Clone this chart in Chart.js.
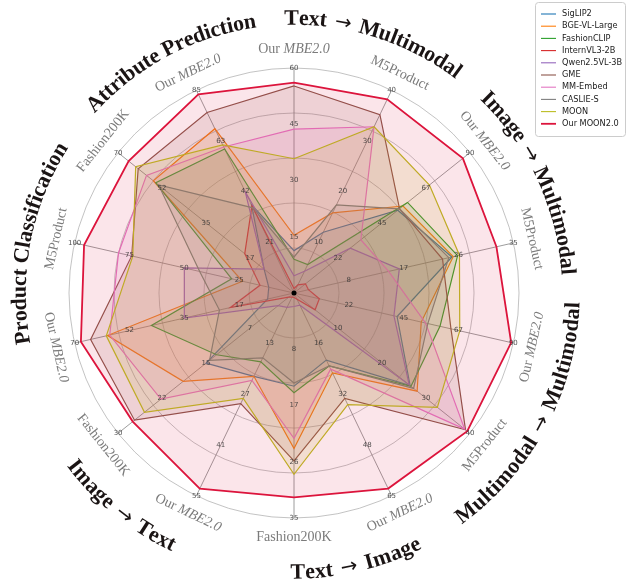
<!DOCTYPE html>
<html>
<head>
<meta charset="utf-8">
<script src="https://cdn.jsdelivr.net/npm/chart.js@4.4.1/dist/chart.umd.min.js"></script>
<style>
  html, body { margin: 0; padding: 0; background: #fff; }
  canvas { display: block; }
</style>
</head>
<body>
<canvas id="myChart" width="629" height="583"></canvas>
<script>
// axes, clockwise from the top
const axisNames = ["Our MBE2.0", "M5Product", "Our MBE2.0", "M5Product", "Our MBE2.0", "M5Product",
  "Our MBE2.0", "Fashion200K", "Our MBE2.0", "Fashion200K", "Our MBE2.0", "M5Product",
  "Fashion200K", "Our MBE2.0"];
const axisTicks = [
  [15, 30, 45, 60], [10, 20, 30, 40], [22, 45, 67, 90], [8, 17, 26, 35],
  [22, 45, 67, 90], [10, 20, 30, 40], [16, 32, 48, 65], [8, 17, 26, 35],
  [13, 27, 41, 55], [7, 15, 22, 30], [17, 35, 52, 70], [25, 50, 75, 100],
  [17, 35, 52, 70], [21, 42, 63, 85]
];
const axisMax = axisTicks.map((t) => t[t.length - 1]);

const groupNames = ["Text → Multimodal", "Image → Multimodal", "Multimodal → Multimodal",
  "Text → Image", "Image → Text", "Product Classification", "Attribute Prediction"];

const seriesNames = ["SigLIP2", "BGE-VL-Large", "FashionCLIP", "InternVL3-2B", "Qwen2.5VL-3B",
  "GME", "MM-Embed", "CASLIE-S", "MOON", "Our MOON2.0"];

const siglip2 = [11.3, 12.0, 53.1, 25.2, 42.3, 26.4, 21.5, 14.5, 22.6, 15.0, 8.4, 11.5, 11.9, 37.0];
const bgeVlLarge = [15.4, 15.8, 55.8, 25.4, 52.2, 28.0, 25.6, 24.2, 22.6, 18.9, 59.5, 23.5, 56.0, 68.9];
const fashionClip = [9.0, 5.6, 58.1, 26.1, 59.9, 26.6, 23.4, 15.5, 18.7, 13.2, 45.5, 28.4, 55.0, 60.4];
const internVl3 = [1.2, 1.6, 5.9, 2.3, 10.4, 4.8, 2.0, 0.7, 1.1, 0.9, 20.3, 15.5, 19.6, 36.6];
const qwen25vl = [4.6, 4.3, 28.8, 16.8, 41.0, 26.2, 3.9, 2.1, 3.9, 2.7, 35.0, 50.0, 11.9, 42.5];
const gme = [55.2, 35.2, 54.0, 23.7, 64.4, 39.0, 33.8, 26.1, 30.0, 27.2, 64.9, 74.0, 62.0, 75.7];
const mmEmbed = [43.7, 32.8, 34.2, 15.1, 54.0, 38.8, 24.4, 22.6, 23.7, 22.7, 58.8, 80.0, 58.7, 61.2];
const caslieS = [9.6, 17.4, 54.0, 24.7, 54.9, 27.2, 23.4, 14.0, 17.6, 14.4, 23.8, 43.0, 53.9, 35.7];
const moon = [35.8, 32.8, 69.3, 26.4, 68.0, 32.6, 35.8, 28.2, 28.6, 25.5, 59.9, 73.5, 63.0, 62.1];
const ourMoon2 = [56.1, 38.2, 86.4, 32.3, 89.1, 39.4, 62.7, 31.8, 53.1, 27.5, 68.0, 95.7, 65.8, 83.3];

const allSeries = [siglip2, bgeVlLarge, fashionClip, internVl3, qwen25vl, gme, mmEmbed, caslieS, moon, ourMoon2];
const colors = ["#1f77b4", "#ff7f0e", "#2ca02c", "#d62728", "#9467bd",
  "#8c564b", "#e377c2", "#7f7f7f", "#bcbd22", "#dc143c"];

// where the group titles sit (degrees clockwise from the top)
const groupAngles = [17.5, 65, 118, 167, -141, -79, -28];

const hexToRgba = (hex, a) => {
  const n = parseInt(hex.slice(1), 16);
  return `rgba(${(n >> 16) & 255}, ${(n >> 8) & 255}, ${n & 255}, ${a})`;
};

const datasets = allSeries.map((values, i) => {
  const ours = i === allSeries.length - 1;
  return {
    label: seriesNames[i],
    data: values.map((v, j) => v / axisMax[j]),
    borderColor: colors[i],
    backgroundColor: hexToRgba(colors[i], ours ? 0.11 : 0.13),
    borderWidth: ours ? 1.8 : 1.2,
    fill: true,
    pointRadius: 0,
    order: allSeries.length - 1 - i,
  };
});

const polar = (cx, cy, r, a) => ({ x: cx + r * Math.sin(a), y: cy - r * Math.cos(a) });

const titleFont = "bold 22px 'Liberation Serif'";
const arrowFont = "20px 'DejaVu Sans'";

const drawArcText = (ctx, text, cx, cy, radius, centerDeg) => {
  const lower = Math.abs(centerDeg) > 90;
  const chars = [...text];
  const widths = chars.map((c) => {
    ctx.font = c === "→" ? arrowFont : titleFont;
    return ctx.measureText(c).width + (c === "→" ? 5 : 0);
  });
  const total = widths.reduce((a, b) => a + b, 0);
  const c0 = (centerDeg * Math.PI) / 180;
  let acc = 0;
  chars.forEach((ch, j) => {
    const mid = acc + widths[j] / 2;
    acc += widths[j];
    const off = (mid - total / 2) / radius;
    const a = lower ? c0 - off : c0 + off;
    const p = polar(cx, cy, radius, a);
    ctx.save();
    ctx.translate(p.x, p.y);
    ctx.rotate(lower ? a - Math.PI : a);
    ctx.font = ch === "→" ? arrowFont : titleFont;
    ctx.fillText(ch, 0, 0);
    ctx.restore();
  });
};

const decorations = {
  id: "decorations",
  afterDatasetsDraw(chart) {
    const ctx = chart.ctx;
    const scale = chart.scales.r;
    const cx = scale.xCenter;
    const cy = scale.yCenter;
    const R = scale.drawingArea;

    ctx.save();
    // tick values along every axis
    ctx.font = "7px 'DejaVu Sans'";
    ctx.fillStyle = "rgba(50, 50, 50, 0.85)";
    ctx.textAlign = "center";
    ctx.textBaseline = "middle";
    axisTicks.forEach((ticks, i) => {
      ticks.forEach((t, k) => {
        const p = scale.getPointPosition(i, scale.getDistanceFromCenterForValue((k + 1) / ticks.length));
        ctx.fillText(String(t), p.x, p.y);
      });
    });

    // centre marker
    ctx.fillStyle = "#000";
    ctx.beginPath();
    ctx.arc(cx, cy, 2.5, 0, Math.PI * 2);
    ctx.fill();

    // axis names, turned along the circle
    ctx.fillStyle = "#7b7b7b";
    axisNames.forEach((name, i) => {
      const a = scale.getIndexAngle(i);
      let deg = (a * 180) / Math.PI;
      if (deg > 180) deg -= 360;
      let rot = deg;
      if (rot > 90) rot -= 180;
      else if (rot < -90) rot += 180;
      const p = polar(cx, cy, R + 19, a);
      ctx.save();
      ctx.translate(p.x, p.y);
      ctx.rotate((rot * Math.PI) / 180);
      ctx.textAlign = "left";
      if (name.startsWith("Our ")) {
        const first = "Our ";
        const rest = name.slice(4);
        ctx.font = "14px 'Liberation Serif'";
        const w1 = ctx.measureText(first).width;
        ctx.font = "italic 14px 'Liberation Serif'";
        const w2 = ctx.measureText(rest).width;
        const x0 = -(w1 + w2) / 2;
        ctx.font = "14px 'Liberation Serif'";
        ctx.fillText(first, x0, 0);
        ctx.font = "italic 14px 'Liberation Serif'";
        ctx.fillText(rest, x0 + w1, 0);
      } else {
        ctx.font = "14px 'Liberation Serif'";
        const w = ctx.measureText(name).width;
        ctx.fillText(name, -w / 2, 0);
      }
      ctx.restore();
    });

    // group titles
    ctx.fillStyle = "#1a1414";
    ctx.textAlign = "center";
    groupNames.forEach((g, i) => {
      const lower = Math.abs(groupAngles[i]) > 90;
      drawArcText(ctx, g, cx, cy, lower ? R + 55 : R + 49, groupAngles[i]);
    });
    ctx.restore();
  },
  afterDraw(chart) {
    const ctx = chart.ctx;
    ctx.save();
    ctx.fillStyle = "rgba(255, 255, 255, 0.85)";
    ctx.strokeStyle = "#cccccc";
    ctx.lineWidth = 1;
    ctx.beginPath();
    ctx.roundRect(535.5, 2.5, 90, 134, 3);
    ctx.fill();
    ctx.stroke();
    ctx.font = "8.2px 'DejaVu Sans'";
    ctx.textBaseline = "middle";
    ctx.textAlign = "left";
    chart.data.datasets.forEach((ds, i) => {
      const y = 14 + i * 12.2;
      ctx.strokeStyle = ds.borderColor;
      ctx.lineWidth = i === chart.data.datasets.length - 1 ? 1.8 : 1.1;
      ctx.beginPath();
      ctx.moveTo(541, y);
      ctx.lineTo(556, y);
      ctx.stroke();
      ctx.fillStyle = "#222";
      ctx.fillText(ds.label, 562, y);
    });
    ctx.restore();
  },
};

new Chart(document.getElementById("myChart"), {
  type: "radar",
  data: { labels: axisNames, datasets: datasets },
  options: {
    responsive: false,
    animation: false,
    devicePixelRatio: 1,
    layout: { padding: { left: 69, top: 68, right: 110, bottom: 65 } },
    plugins: { legend: { display: false }, tooltip: { enabled: false } },
    elements: { line: { tension: 0 } },
    scales: {
      r: {
        min: 0,
        max: 1,
        ticks: { display: false, stepSize: 0.2 },
        pointLabels: { display: false },
        grid: { circular: true, color: "rgba(175, 175, 175, 0.75)", lineWidth: 1 },
        angleLines: { color: "rgba(140, 140, 140, 0.85)", lineWidth: 1 },
      },
    },
  },
  plugins: [decorations],
});
</script>
</body>
</html>
